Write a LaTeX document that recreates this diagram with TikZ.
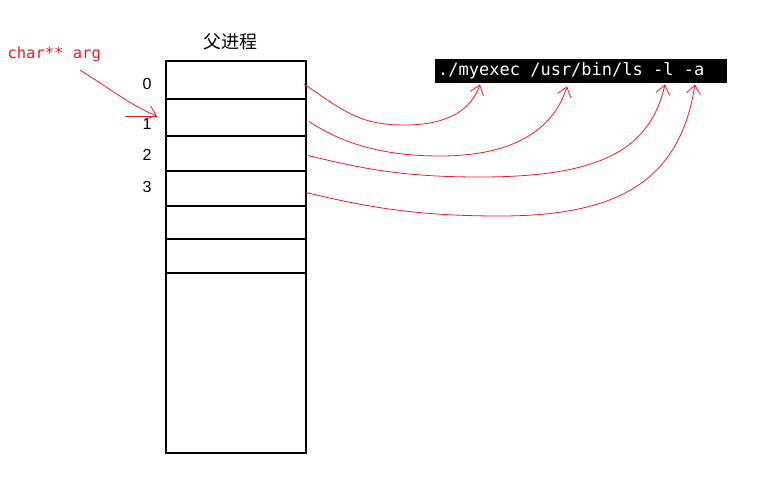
\documentclass[tikz,border=0pt]{standalone}
\usepackage{fontspec}
\setmainfont{Liberation Sans}
\newfontfamily\cjkfont{Noto Sans CJK SC}
\newfontfamily\monofont{DejaVu Sans Mono}
\usetikzlibrary{arrows.meta,positioning}
\definecolor{paintred}{RGB}{237,28,36}
\newcommand\msp{\hphantom{x}}

\begin{document}
\begin{tikzpicture}[x=1pt, y=-1pt,
    slot/.style={draw, line width=2.4pt, minimum width=140pt, inner sep=0pt, outer sep=0pt},
    idx/.style={font=\fontsize{16}{18}\selectfont},
    cmd/.style={fill=black, text=white, font=\monofont\fontsize{17}{19}\selectfont,
                text width=286pt, align=left, inner xsep=3pt, inner ysep=3.5pt,
                text height=13pt, text depth=4pt},
    ptr/.style={paintred, line width=0.8pt, -{Straight Barb[length=9pt,width=14pt]}},
    lab/.style={text=paintred, font=\monofont\fontsize{15.5}{17}\selectfont}
]
\useasboundingbox (0,0) rectangle (772,493);
% ---------------- argv table ----------------
\node[font=\cjkfont\fontsize{18}{20}\selectfont] (title) at (230,42) {父进程};
\node[slot, minimum height=38pt, anchor=north west] (s0) at (166,61) {};
\node[slot, minimum height=37pt, below=0pt of s0] (s1) {};
\node[slot, minimum height=35pt, below=0pt of s1] (s2) {};
\node[slot, minimum height=35pt, below=0pt of s2] (s3) {};
\node[slot, minimum height=33pt, below=0pt of s3] (s4) {};
\node[slot, minimum height=34pt, below=0pt of s4] (s5) {};
\node[slot, minimum height=180pt, below=0pt of s5] (rest) {};
\node[idx] (n0) at (147,84) {0};
\node[idx] (n1) at (147,124) {1};
\node[idx] (n2) at (147,155) {2};
\node[idx] (n3) at (147,187) {3};
% ---------------- command line ----------------
\node[cmd, anchor=north west] (cmd) at (435,59) {./myexec\msp/usr/bin/ls\msp-l\msp-a};
\coordinate (a0) at ([xshift=45pt,yshift=-1pt]cmd.south west);
\coordinate (a1) at ([xshift=132pt,yshift=-3pt]cmd.south west);
\coordinate (a2) at ([xshift=230pt,yshift=-1pt]cmd.south west);
\coordinate (a3) at ([xshift=260pt,yshift=-1pt]cmd.south west);
\draw[ptr] ([xshift=-2pt,yshift=-4pt]s0.east) .. controls (345,112) and (360,125) .. (405,125)
    .. controls (450,125) and (472,108) .. (a0);
\draw[ptr] ([xshift=3pt,yshift=-4pt]s1.east) .. controls (340,142) and (380,156) .. (440,156)
    .. controls (520,156) and (555,125) .. (a1);
\draw[ptr] ([xshift=2pt,yshift=-2pt]s2.east) .. controls (360,168) and (400,177) .. (480,177)
    .. controls (600,177) and (650,150) .. (a2);
\draw[ptr] ([yshift=-4pt]s3.east) .. controls (370,208) and (420,216) .. (500,216)
    .. controls (620,216) and (680,180) .. (a3);
% ---------------- char** arg ----------------
\node[lab, anchor=west] (argname) at (4,54) {char**\msp arg};
\coordinate (argtip) at ([xshift=-9pt,yshift=1.5pt]s1.west);
\draw[ptr] ([xshift=76pt,yshift=-5pt]argname.south west) .. controls (115,92) and (132,106) .. (argtip);
\draw[paintred, line width=0.8pt] ([xshift=-32pt]argtip) -- (argtip);
\end{tikzpicture}
\end{document}
